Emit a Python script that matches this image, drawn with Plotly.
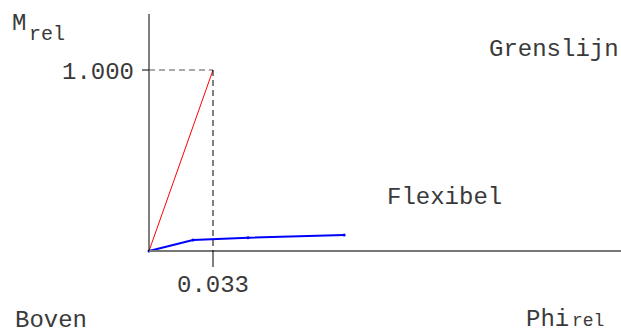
import plotly.graph_objects as go

# data
grens_x = [0.0, 0.033]
grens_y = [0.0, 1.0]
flex_x = [0.0, 0.0227, 0.051, 0.1006]
flex_y = [0.0, 0.061, 0.073, 0.088]
x_tick = 0.033
y_tick = 1.0
x_tick_label = "0.033"
y_tick_label = "1.000"

W, H = 621, 335
ox, oy = 149, 251          # pixel of origin
sx = (213 - 149) / 0.033   # px per unit x
sy = (251 - 70) / 1.0      # px per unit y
xr = [-ox / sx, (W - ox) / sx]
yr = [-(H - oy) / sy, oy / sy]

FONT = "Courier New, Courier, Nimbus Mono PS, FreeMono, Liberation Mono, monospace"
FS = 24
SUB = 20
TC = "#3a3a3a"

fig = go.Figure()
fig.add_trace(go.Scatter(x=grens_x, y=grens_y, mode="lines",
                         line=dict(color="#ff0000", width=1), hoverinfo="skip"))
fig.add_trace(go.Scatter(x=flex_x, y=flex_y, mode="lines+markers",
                         line=dict(color="#0000ff", width=2),
                         marker=dict(color="#0000ff", size=3), hoverinfo="skip"))

def px2x(p): return (p - ox) / sx
def py2y(p): return (oy - p) / sy

shapes = [
    dict(type="line", x0=0, x1=xr[1], y0=0, y1=0, line=dict(color="#777777", width=2)),
    dict(type="line", x0=0, x1=0, y0=0, y1=py2y(14), line=dict(color="#000000", width=1)),
    dict(type="line", x0=px2x(142), x1=0, y0=y_tick, y1=y_tick, line=dict(color="#000000", width=1)),
    dict(type="line", x0=x_tick, x1=x_tick, y0=py2y(267), y1=0, line=dict(color="#000000", width=1)),
    dict(type="line", x0=0, x1=x_tick, y0=y_tick, y1=y_tick,
         line=dict(color="#555555", width=1, dash="6px,4px")),
    dict(type="line", x0=x_tick, x1=x_tick, y0=y_tick, y1=0,
         line=dict(color="#000000", width=1, dash="6px,4px")),
]

ann = []
def A(text, x, y, xa="left", ya="middle", size=FS):
    ann.append(dict(text=text, x=x / W, y=1 - y / H, xref="paper", yref="paper",
                    xanchor=xa, yanchor=ya, showarrow=False, borderpad=0,
                    font=dict(family=FONT, size=size, color=TC)))

A("M", 11, 24)
A("rel", 28, 35, size=SUB)
A(y_tick_label, 135, 72, xa="right")
A("Grenslijn", 620, 50, xa="right")
A("Flexibel", 386, 197)
A(x_tick_label, 213, 285, xa="center")
A("Boven", 14, 320)
A("Phi", 525, 319)
A("rel", 571, 321, size=18)

fig.update_layout(
    width=W, height=H, margin=dict(l=0, r=0, t=0, b=0),
    paper_bgcolor="white", plot_bgcolor="white", showlegend=False,
    xaxis=dict(range=xr, visible=False, fixedrange=True),
    yaxis=dict(range=yr, visible=False, fixedrange=True),
    shapes=shapes, annotations=ann,
)
fig.write_html("out.html", config={"displayModeBar": False},
               post_script="document.body.style.margin='0';document.body.style.overflow='hidden';")
